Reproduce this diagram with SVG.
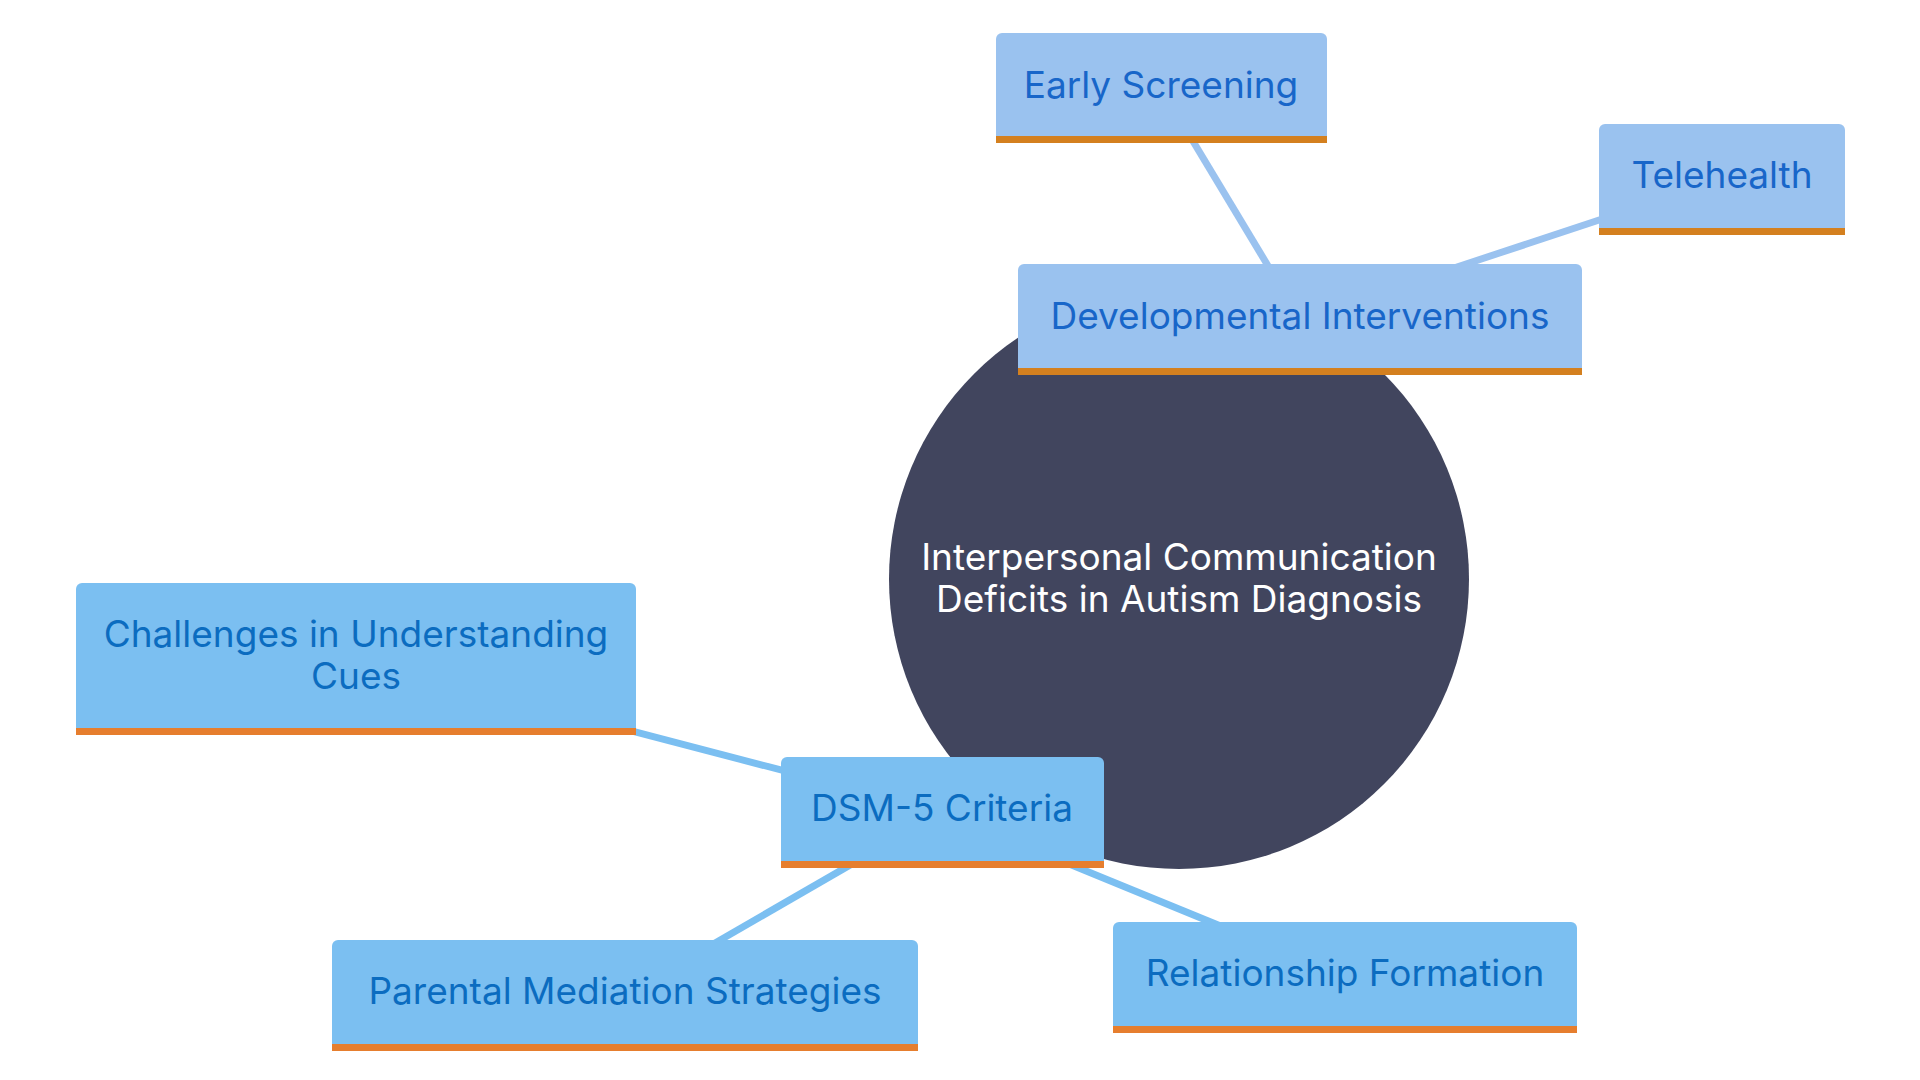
<svg xmlns="http://www.w3.org/2000/svg" width="1920" height="1080" viewBox="0 0 1920 1080">
<style>
.t{font-family:Inter,"Noto Sans",sans-serif;font-size:37px;text-anchor:middle;dominant-baseline:central}
.top .bg{fill:#9AC2EF}
.top .bar{fill:#D4801F}
.top text{fill:#1866C9}
.bot .bg{fill:#7BBFF1}
.bot .bar{fill:#E67E2E}
.bot text{fill:#0B6CC0}
.ctext{fill:#FFFFFF}
.c1{stroke:#9AC2EF;stroke-width:7;fill:none}
.c2{stroke:#7BBFF1;stroke-width:7;fill:none}
</style>
<rect width="1920" height="1080" fill="#FFFFFF"/>
<g id="connectors">
<line class="c1" x1="1161" y1="88" x2="1300" y2="319"/>
<line class="c1" x1="1723" y1="179" x2="1300" y2="319"/>
<line class="c2" x1="356" y1="659" x2="942" y2="812"/>
<line class="c2" x1="625" y1="995" x2="942" y2="812"/>
<line class="c2" x1="1345" y1="977" x2="942" y2="812"/>
</g>
<g id="center">
<circle cx="1179" cy="579" r="290" fill="#41455E"/>
<text class="t ctext" x="1179" y="556">Interpersonal Communication</text>
<text class="t ctext" x="1179" y="598">Deficits in Autism Diagnosis</text>
</g>
<g id="early-screening" class="top">
<path class="bg" d="M996,143V39a6,6 0 0 1 6,-6H1321a6,6 0 0 1 6,6V143Z"/>
<rect class="bar" x="996" y="136" width="331" height="7"/>
<text class="t" x="1161" y="84">Early Screening</text>
</g>
<g id="telehealth" class="top">
<path class="bg" d="M1599,235V130a6,6 0 0 1 6,-6H1839a6,6 0 0 1 6,6V235Z"/>
<rect class="bar" x="1599" y="228" width="246" height="7"/>
<text class="t" x="1722" y="174">Telehealth</text>
</g>
<g id="developmental-interventions" class="top">
<path class="bg" d="M1018,375V270a6,6 0 0 1 6,-6H1576a6,6 0 0 1 6,6V375Z"/>
<rect class="bar" x="1018" y="368" width="564" height="7"/>
<text class="t" x="1300" y="315">Developmental Interventions</text>
</g>
<g id="challenges" class="bot">
<path class="bg" d="M76,735V589a6,6 0 0 1 6,-6H630a6,6 0 0 1 6,6V735Z"/>
<rect class="bar" x="76" y="728" width="560" height="7"/>
<text class="t" x="356" y="633">Challenges in Understanding</text>
<text class="t" x="356" y="675">Cues</text>
</g>
<g id="dsm5" class="bot">
<path class="bg" d="M781,868V763a6,6 0 0 1 6,-6H1098a6,6 0 0 1 6,6V868Z"/>
<rect class="bar" x="781" y="861" width="323" height="7"/>
<text class="t" x="942" y="807">DSM-5 Criteria</text>
</g>
<g id="parental" class="bot">
<path class="bg" d="M332,1051V946a6,6 0 0 1 6,-6H912a6,6 0 0 1 6,6V1051Z"/>
<rect class="bar" x="332" y="1044" width="586" height="7"/>
<text class="t" x="625" y="990">Parental Mediation Strategies</text>
</g>
<g id="relationship" class="bot">
<path class="bg" d="M1113,1033V928a6,6 0 0 1 6,-6H1571a6,6 0 0 1 6,6V1033Z"/>
<rect class="bar" x="1113" y="1026" width="464" height="7"/>
<text class="t" x="1345" y="972">Relationship Formation</text>
</g>
</svg>
